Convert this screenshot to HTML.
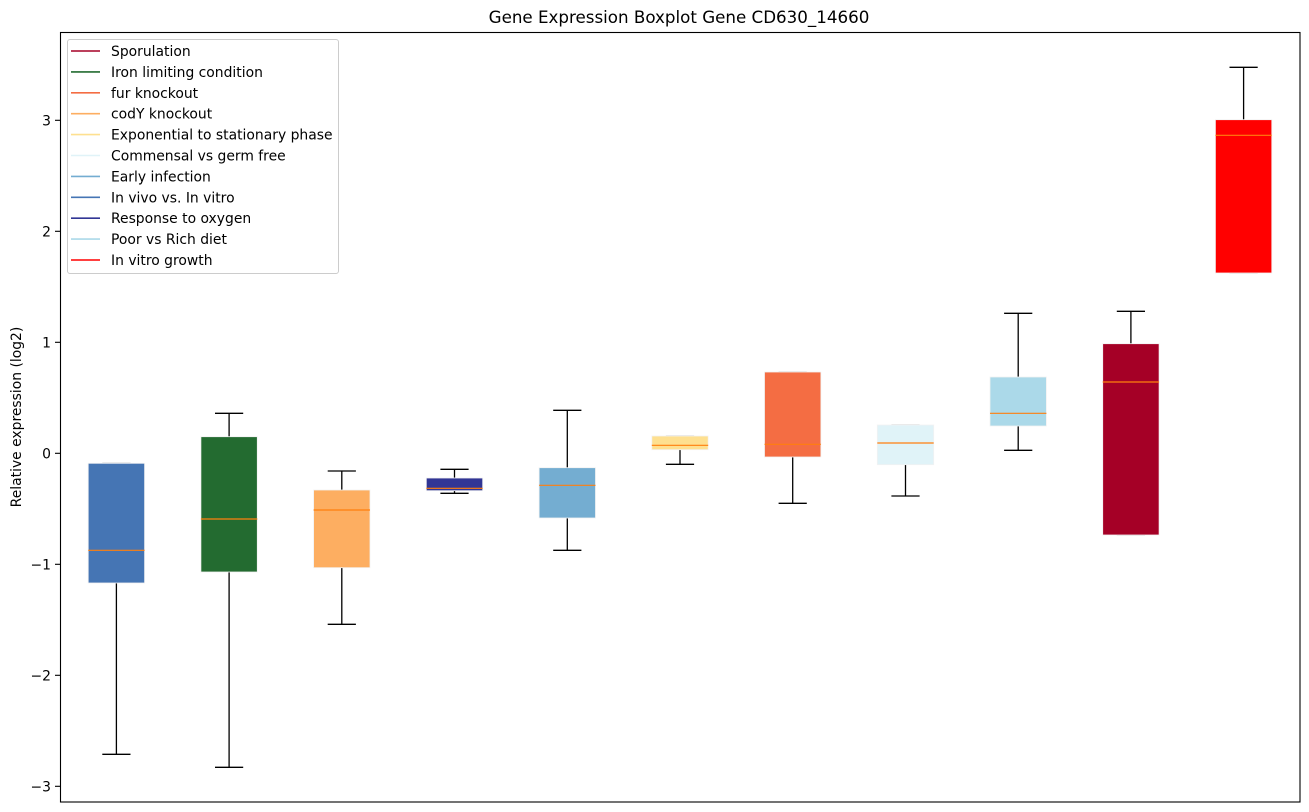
<!DOCTYPE html>
<html><head><meta charset="utf-8"><style>
html,body{margin:0;padding:0;background:#fff;}
svg{display:block;font-family:"DejaVu Sans","Liberation Sans",sans-serif;}
</style></head><body>
<svg width="1309" height="812" viewBox="0 0 1309 812" xmlns="http://www.w3.org/2000/svg">
<rect x="0" y="0" width="1309" height="812" fill="#fff"/>
<text x="679" y="23" font-size="16.7" text-anchor="middle" fill="#000">Gene Expression Boxplot Gene CD630_14660</text>
<text transform="translate(21,417) rotate(-90)" font-size="13.9" text-anchor="middle" fill="#000">Relative expression (log2)</text>
<g stroke="#000" stroke-width="1.1">
<line x1="55" y1="120.3" x2="60" y2="120.3"/>
<line x1="55" y1="231.3" x2="60" y2="231.3"/>
<line x1="55" y1="342.3" x2="60" y2="342.3"/>
<line x1="55" y1="453.3" x2="60" y2="453.3"/>
<line x1="55" y1="564.3" x2="60" y2="564.3"/>
<line x1="55" y1="675.3" x2="60" y2="675.3"/>
<line x1="55" y1="786.3" x2="60" y2="786.3"/>
</g>
<g font-size="13.9" text-anchor="end" fill="#000">
<text x="51" y="125.3">3</text>
<text x="51" y="236.3">2</text>
<text x="51" y="347.3">1</text>
<text x="51" y="458.3">0</text>
<text x="51" y="569.3">−1</text>
<text x="51" y="680.3">−2</text>
<text x="51" y="791.3">−3</text>
</g>
<!-- whiskers -->
<g stroke="#000" stroke-width="1.3">
<line x1="116.4" y1="583" x2="116.4" y2="754.3"/><line x1="102.3" y1="754.3" x2="130.5" y2="754.3"/>
<line x1="229.1" y1="413.3" x2="229.1" y2="436.7"/><line x1="229.1" y1="572" x2="229.1" y2="767.3"/><line x1="215" y1="413.3" x2="243.2" y2="413.3"/><line x1="215" y1="767.3" x2="243.2" y2="767.3"/>
<line x1="341.8" y1="471" x2="341.8" y2="490"/><line x1="341.8" y1="567.7" x2="341.8" y2="624.3"/><line x1="327.7" y1="471" x2="355.9" y2="471"/><line x1="327.7" y1="624.3" x2="355.9" y2="624.3"/>
<line x1="454.5" y1="469.3" x2="454.5" y2="478"/><line x1="454.5" y1="490.7" x2="454.5" y2="493.3"/><line x1="440.4" y1="469.3" x2="468.6" y2="469.3"/><line x1="440.4" y1="493.3" x2="468.6" y2="493.3"/>
<line x1="567.3" y1="410.3" x2="567.3" y2="467.7"/><line x1="567.3" y1="518" x2="567.3" y2="550.3"/><line x1="553.2" y1="410.3" x2="581.4" y2="410.3"/><line x1="553.2" y1="550.3" x2="581.4" y2="550.3"/>
<line x1="680" y1="449.7" x2="680" y2="464.3"/><line x1="665.9" y1="464.3" x2="694.1" y2="464.3"/>
<line x1="792.7" y1="457" x2="792.7" y2="503.3"/><line x1="778.6" y1="503.3" x2="806.8" y2="503.3"/>
<line x1="905.5" y1="464.7" x2="905.5" y2="496"/><line x1="891.4" y1="496" x2="919.6" y2="496"/>
<line x1="1018.2" y1="313.3" x2="1018.2" y2="377"/><line x1="1018.2" y1="426" x2="1018.2" y2="450.3"/><line x1="1004.1" y1="313.3" x2="1032.3" y2="313.3"/><line x1="1004.1" y1="450.3" x2="1032.3" y2="450.3"/>
<line x1="1130.9" y1="311.3" x2="1130.9" y2="343.7"/><line x1="1116.8" y1="311.3" x2="1145" y2="311.3"/>
<line x1="1243.6" y1="67.3" x2="1243.6" y2="119.7"/><line x1="1229.5" y1="67.3" x2="1257.7" y2="67.3"/>
</g>
<g stroke="#bbb" stroke-width="1.3">
<line x1="102.3" y1="463.3" x2="130.5" y2="463.3"/>
<line x1="665.9" y1="436" x2="694.1" y2="436"/>
<line x1="778.6" y1="372" x2="806.8" y2="372"/>
<line x1="891.4" y1="425" x2="919.6" y2="425"/>
<line x1="1116.8" y1="535" x2="1145" y2="535"/>
<line x1="1229.5" y1="273" x2="1257.7" y2="273"/>
</g>
<!-- boxes -->
<g stroke="#f2f2f2" stroke-width="0.8">
<rect x="88.2" y="463.3" width="56.4" height="119.7" fill="#4575b4"/>
<rect x="200.9" y="436.7" width="56.4" height="135.3" fill="#236b30"/>
<rect x="313.6" y="490" width="56.4" height="77.7" fill="#fdae61"/>
<rect x="426.3" y="478" width="56.4" height="12.7" fill="#313695"/>
<rect x="539.1" y="467.7" width="56.4" height="50.3" fill="#74add1"/>
<rect x="651.8" y="436" width="56.4" height="13.7" fill="#fee090"/>
<rect x="764.5" y="372" width="56.4" height="85" fill="#f46d43"/>
<rect x="877.3" y="425" width="56.4" height="39.7" fill="#e0f3f8"/>
<rect x="990" y="377" width="56.4" height="49" fill="#abd9e9"/>
<rect x="1102.7" y="343.7" width="56.4" height="191.3" fill="#a50026"/>
<rect x="1215.4" y="119.7" width="56.4" height="153.3" fill="#ff0000"/>
</g>
<!-- medians -->
<g stroke="#ff7f0e" stroke-width="1.2">
<line x1="88.2" y1="550.3" x2="144.6" y2="550.3"/>
<line x1="200.9" y1="519" x2="257.3" y2="519"/>
<line x1="313.6" y1="510" x2="370" y2="510"/>
<line x1="426.3" y1="488.3" x2="482.7" y2="488.3"/>
<line x1="539.1" y1="485.3" x2="595.5" y2="485.3"/>
<line x1="651.8" y1="445.3" x2="708.2" y2="445.3"/>
<line x1="764.5" y1="444.3" x2="820.9" y2="444.3"/>
<line x1="877.3" y1="443" x2="933.7" y2="443"/>
<line x1="990" y1="413.3" x2="1046.4" y2="413.3"/>
<line x1="1102.7" y1="382" x2="1159.1" y2="382"/>
<line x1="1215.4" y1="135.3" x2="1271.8" y2="135.3"/>
</g>
<!-- axes frame -->
<rect x="60.5" y="32.5" width="1239.5" height="769.5" fill="none" stroke="#000" stroke-width="1.1"/>
<!-- legend -->
<rect x="67.5" y="39.5" width="271" height="234" rx="2.5" fill="#fff" fill-opacity="0.8" stroke="#ccc" stroke-width="1"/>
<g stroke-width="1.6">
<line x1="71" y1="51" x2="100" y2="51" stroke="#a50026"/>
<line x1="71" y1="71.9" x2="100" y2="71.9" stroke="#236b30"/>
<line x1="71" y1="92.8" x2="100" y2="92.8" stroke="#f46d43"/>
<line x1="71" y1="113.7" x2="100" y2="113.7" stroke="#fdae61"/>
<line x1="71" y1="134.6" x2="100" y2="134.6" stroke="#fee090"/>
<line x1="71" y1="155.5" x2="100" y2="155.5" stroke="#e0f3f8"/>
<line x1="71" y1="176.4" x2="100" y2="176.4" stroke="#74add1"/>
<line x1="71" y1="197.3" x2="100" y2="197.3" stroke="#4575b4"/>
<line x1="71" y1="218.2" x2="100" y2="218.2" stroke="#313695"/>
<line x1="71" y1="239.1" x2="100" y2="239.1" stroke="#abd9e9"/>
<line x1="71" y1="260" x2="100" y2="260" stroke="#ff0000"/>
</g>
<g font-size="13.9" fill="#000">
<text x="111" y="56">Sporulation</text>
<text x="111" y="76.9">Iron limiting condition</text>
<text x="111" y="97.8">fur knockout</text>
<text x="111" y="118.7">codY knockout</text>
<text x="111" y="139.6">Exponential to stationary phase</text>
<text x="111" y="160.5">Commensal vs germ free</text>
<text x="111" y="181.4">Early infection</text>
<text x="111" y="202.3">In vivo vs. In vitro</text>
<text x="111" y="223.2">Response to oxygen</text>
<text x="111" y="244.1">Poor vs Rich diet</text>
<text x="111" y="265">In vitro growth</text>
</g>
</svg>
</body></html>
